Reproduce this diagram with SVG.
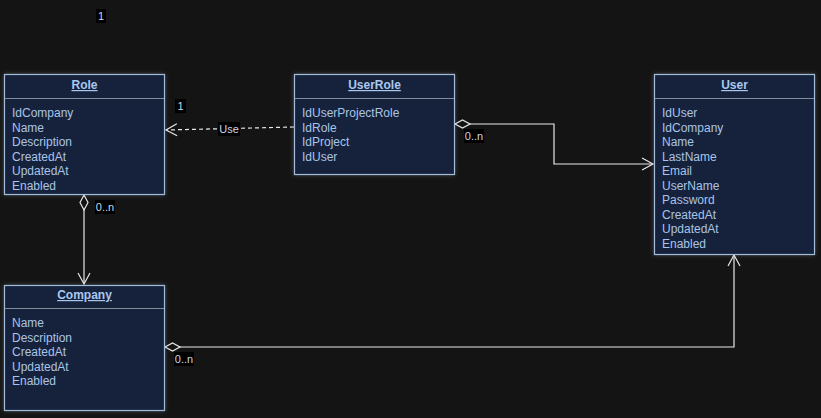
<svg xmlns="http://www.w3.org/2000/svg" width="821" height="418" viewBox="0 0 821 418">
<style>
.bg{fill:#141414}
.box{fill:#15223a;stroke:#a3bad8;stroke-width:1.2}
.div{stroke:#7f8c9c;stroke-width:1}
.title{font-family:"Liberation Sans",Arial,sans-serif;font-size:12px;font-weight:bold;fill:#a9c8f0;text-anchor:middle;text-decoration:underline}
.attr{font-family:"Liberation Sans",Arial,sans-serif;font-size:12px;fill:#a9c4e8}
.edge{fill:none;stroke:#e8e8e8;stroke-width:1.2}
.dash{stroke-dasharray:4 3}
.lblbg{fill:#000}
.lbl{font-family:"Liberation Sans",Arial,sans-serif;font-size:11px;fill:#c8d8ec;text-anchor:middle}
</style>
<defs>
<filter id="glow" x="-10%" y="-10%" width="120%" height="120%">
<feDropShadow dx="0" dy="0" stdDeviation="2" flood-color="#9aa6b4" flood-opacity="0.35"/>
</filter>
<marker id="arrow" markerUnits="userSpaceOnUse" markerWidth="14" markerHeight="14" viewBox="-12 -7 14 14" refX="0" refY="0" orient="auto" overflow="visible">
<path d="M-11,-6 L0,0 L-11,6" fill="none" stroke="#e8e8e8" stroke-width="1.2"/>
</marker>
<marker id="diamond" markerUnits="userSpaceOnUse" markerWidth="16" markerHeight="10" viewBox="0 -5 16 10" refX="0" refY="0" orient="auto" overflow="visible">
<path d="M0,0 L7.5,-4 L15,0 L7.5,4 Z" fill="#141414" stroke="#e8e8e8" stroke-width="1.2"/>
</marker>
</defs>
<rect class="bg" x="0" y="0" width="821" height="418"/>

<g id="connectors">
<path class="edge dash" d="M294,127 L166,130" marker-end="url(#arrow)"/>
<path class="edge" d="M455,124 L554,124 L554,164 L653,164" marker-start="url(#diamond)" marker-end="url(#arrow)"/>
<path class="edge" d="M84,195 L84,284" marker-start="url(#diamond)" marker-end="url(#arrow)"/>
<path class="edge" d="M165,347 L734,347 L734,255" marker-start="url(#diamond)" marker-end="url(#arrow)"/>
<rect class="lblbg" x="218" y="122" width="22" height="14"/>
<text class="lbl" x="229" y="133">Use</text>
<rect class="lblbg" x="175" y="99" width="11" height="14"/>
<text class="lbl" x="180.5" y="110">1</text>
<rect class="lblbg" x="464" y="129" width="20" height="14"/>
<text class="lbl" x="474" y="140">0..n</text>
<rect class="lblbg" x="95" y="200" width="20" height="14"/>
<text class="lbl" x="105" y="211">0..n</text>
<rect class="lblbg" x="174" y="352" width="20" height="14"/>
<text class="lbl" x="184" y="363">0..n</text>
</g>

<g id="label-top">
<rect class="lblbg" x="96" y="9" width="10" height="14"/>
<text class="lbl" x="101" y="20">1</text>
</g>

<g id="Role">
<rect class="box" x="4.5" y="74.5" width="160" height="120" filter="url(#glow)"/>
<line class="div" x1="5" y1="98.5" x2="164" y2="98.5"/>
<text class="title" x="84.5" y="89">Role</text>
<text class="attr" x="12" y="117">IdCompany</text>
<text class="attr" x="12" y="131.5">Name</text>
<text class="attr" x="12" y="146">Description</text>
<text class="attr" x="12" y="160.5">CreatedAt</text>
<text class="attr" x="12" y="175">UpdatedAt</text>
<text class="attr" x="12" y="189.5">Enabled</text>
</g>

<g id="UserRole">
<rect class="box" x="294.5" y="74.5" width="160" height="100" filter="url(#glow)"/>
<line class="div" x1="295" y1="98.5" x2="454" y2="98.5"/>
<text class="title" x="374.5" y="89">UserRole</text>
<text class="attr" x="302" y="117">IdUserProjectRole</text>
<text class="attr" x="302" y="131.5">IdRole</text>
<text class="attr" x="302" y="146">IdProject</text>
<text class="attr" x="302" y="160.5">IdUser</text>
</g>

<g id="User">
<rect class="box" x="654.5" y="74.5" width="160" height="180" filter="url(#glow)"/>
<line class="div" x1="655" y1="98.5" x2="814" y2="98.5"/>
<text class="title" x="734.5" y="89">User</text>
<text class="attr" x="662" y="117">IdUser</text>
<text class="attr" x="662" y="131.5">IdCompany</text>
<text class="attr" x="662" y="146">Name</text>
<text class="attr" x="662" y="160.5">LastName</text>
<text class="attr" x="662" y="175">Email</text>
<text class="attr" x="662" y="189.5">UserName</text>
<text class="attr" x="662" y="204">Password</text>
<text class="attr" x="662" y="218.5">CreatedAt</text>
<text class="attr" x="662" y="233">UpdatedAt</text>
<text class="attr" x="662" y="247.5">Enabled</text>
</g>

<g id="Company">
<rect class="box" x="4.5" y="285.5" width="160" height="125" filter="url(#glow)"/>
<line class="div" x1="5" y1="308.5" x2="164" y2="308.5"/>
<text class="title" x="84.5" y="299">Company</text>
<text class="attr" x="12" y="327">Name</text>
<text class="attr" x="12" y="341.5">Description</text>
<text class="attr" x="12" y="356">CreatedAt</text>
<text class="attr" x="12" y="370.5">UpdatedAt</text>
<text class="attr" x="12" y="385">Enabled</text>
</g>
</svg>
